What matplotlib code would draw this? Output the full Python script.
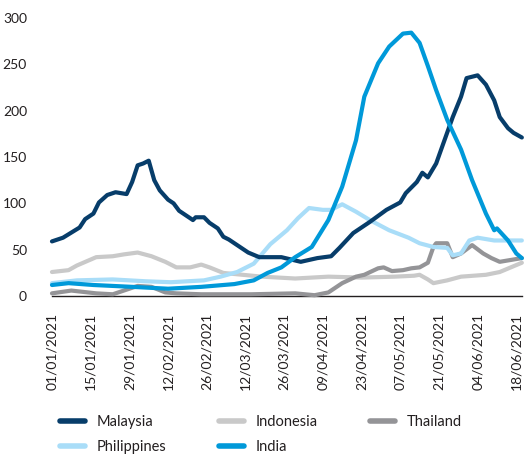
import numpy as np
import pandas as pd
import matplotlib
matplotlib.use("Agg")
import matplotlib.pyplot as plt
import matplotlib.dates as mdates

plt.rcParams['font.family'] = ['Lato', 'DejaVu Sans']

start = pd.Timestamp("2021-01-01")

# day offsets from 01/01/2021 and values
malaysia_days = [0, 4, 10, 12, 15, 17, 20, 23, 27, 29, 31, 33, 35, 37, 39, 42, 44, 46, 51, 52,
                 55, 57, 60, 62, 64, 66, 68, 71, 75, 83, 90, 96, 101, 104, 109, 115, 121, 126, 128, 132,
                 134, 136, 139, 142, 145, 148, 150, 154, 157, 160, 162, 165, 167, 170]
malaysia_vals = [59, 63, 74, 83, 89, 101, 109, 112, 110, 123, 141, 143, 146, 125, 114, 104, 100, 92, 82, 85,
                 85, 79, 73, 64, 61, 57, 53, 47, 42, 42, 37, 41, 43, 52, 68, 80, 93, 101, 111, 123,
                 133, 128, 143, 168, 193, 215, 235, 238, 228, 211, 193, 181, 176, 171]

india_days = [0, 6, 15, 29, 42, 54, 66, 73, 78, 83, 88, 94, 100, 105, 110, 113, 118, 122, 127, 130,
              133, 136, 139, 143, 148, 152, 157, 160, 161, 165, 168, 170]
india_vals = [12, 14, 12, 10, 8, 10, 13, 17, 25, 31, 42, 53, 82, 118, 168, 215, 251, 269, 283, 284,
              273, 248, 222, 190, 158, 125, 89, 71, 73, 60, 46, 41]

philippines_days = [0, 9, 22, 34, 43, 55, 61, 67, 73, 79, 85, 89, 93, 98, 101, 105, 110, 115, 122, 129,
                    133, 138, 143, 145, 148, 151, 154, 160, 170]
philippines_vals = [14, 17, 18, 16, 15, 17, 21, 26, 35, 56, 71, 84, 95, 93, 93, 99, 91, 82, 71, 63,
                    57, 53, 52, 44, 46, 60, 63, 60, 60]

indonesia_days = [0, 6, 9, 16, 22, 26, 31, 36, 41, 45, 50, 54, 57, 62, 69, 76, 88, 100, 112, 124,
                  131, 133, 136, 138, 143, 148, 157, 162, 170]
indonesia_vals = [26, 28, 33, 42, 43, 45, 47, 43, 37, 31, 31, 34, 31, 25, 23, 21, 19, 21, 20, 21,
                  22, 23, 18, 14, 17, 21, 23, 26, 36]

thailand_days = [0, 7, 16, 22, 26, 31, 36, 41, 45, 54, 72, 88, 95, 100, 105, 110, 113, 118, 120, 123,
                 127, 130, 133, 136, 138, 139, 143, 145, 148, 152, 156, 159, 162, 166, 170]
thailand_vals = [3, 6, 3, 2, 6, 11, 10, 4, 3, 2, 2, 3, 1, 4, 14, 21, 23, 30, 31, 27,
                 28, 30, 31, 36, 53, 57, 57, 42, 46, 55, 46, 41, 37, 39, 41]

series = [
    ("Malaysia", malaysia_days, malaysia_vals, "#073d6a", 4),
    ("Indonesia", indonesia_days, indonesia_vals, "#c9c9c9", 1),
    ("Thailand", thailand_days, thailand_vals, "#949497", 2),
    ("Philippines", philippines_days, philippines_vals, "#a9ddf8", 3),
    ("India", india_days, india_vals, "#0099d9", 5),
]

fig = plt.figure(figsize=(5.25, 4.57), dpi=100)
ax = fig.add_axes([0.099, 0.352, 0.895, 0.609])

handles = {}
for name, days, vals, color, z in series:
    dates = start + pd.to_timedelta(days, unit="D")
    ln, = ax.plot(dates, vals, color=color, lw=3.0, label=name, zorder=z,
                  solid_capstyle="round", solid_joinstyle="round", clip_on=False)
    handles[name] = ln

ax.set_ylim(0, 300)
ax.set_yticks([0, 50, 100, 150, 200, 250, 300])
ax.set_xlim(start, start + pd.Timedelta(days=170))
ticks = [start + pd.Timedelta(days=14 * i) for i in range(13)]
ax.set_xticks(ticks)
ax.xaxis.set_major_formatter(mdates.DateFormatter("%d/%m/%Y"))
for lab in ax.get_xticklabels():
    lab.set_rotation(90)

ax.tick_params(axis="both", length=0, labelsize=10, colors="#231f20")
ax.tick_params(axis="x", pad=12)
ax.tick_params(axis="y", pad=18)
for s in ["top", "right", "left"]:
    ax.spines[s].set_visible(False)
ax.spines["bottom"].set_color("#231f20")
ax.spines["bottom"].set_linewidth(1.0)
ax.spines["bottom"].set_zorder(0)

# row-major legend order with column-major filling
order = ["Malaysia", "Philippines", "Indonesia", "India", "Thailand"]
leg = fig.legend([handles[n] for n in order], order, ncol=3, loc="upper left",
                 bbox_to_anchor=(0.115, 0.092), frameon=False, fontsize=10.5,
                 handlelength=1.7, handletextpad=0.8, columnspacing=3.6,
                 labelspacing=0.75, borderaxespad=0, borderpad=0)
for line in leg.get_lines():
    line.set_linewidth(4)
for t in leg.get_texts():
    t.set_color("#231f20")

fig.savefig("out.png", dpi=100)
